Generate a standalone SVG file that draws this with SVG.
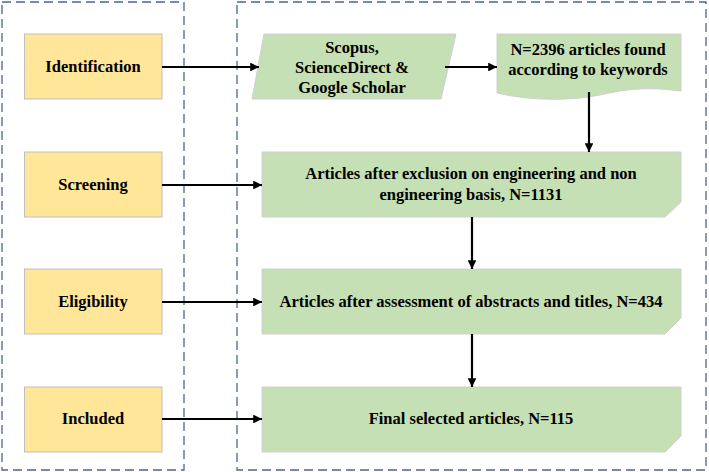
<svg xmlns="http://www.w3.org/2000/svg" width="709" height="472" viewBox="0 0 709 472">
<defs>
<marker id="ah" viewBox="0 0 10 10" refX="10" refY="5" markerWidth="4" markerHeight="4" orient="auto" markerUnits="strokeWidth">
<path d="M0,0 L10,5 L0,10 z" fill="#000"/>
</marker>
<style>
.frame{fill:none;stroke:#4A6699;stroke-width:1.3;stroke-dasharray:9,5}
.stage{fill:#FFE699;stroke:#BFBFBF;stroke-width:1}
.proc{fill:#C5E0B4;stroke:#D0D0D0;stroke-width:1}
.t{font-family:"Liberation Serif","Times New Roman",serif;font-weight:bold;font-size:16.5px;fill:#000;text-anchor:middle}
.c{fill:none;stroke:#000;stroke-width:2.2;marker-end:url(#ah)}
</style>
</defs>
<rect width="709" height="472" fill="#fff"/>
<rect class="frame" x="2" y="2" width="182" height="468"/>
<rect class="frame" x="237" y="2" width="469" height="468"/>

<g id="identification"><rect class="stage" x="24.5" y="34" width="137.5" height="65"/><text class="t" x="93" y="72">Identification</text></g>
<g id="screening"><rect class="stage" x="24.5" y="152" width="137.5" height="65"/><text class="t" x="93" y="190">Screening</text></g>
<g id="eligibility"><rect class="stage" x="24.5" y="269" width="137.5" height="65"/><text class="t" x="93" y="307">Eligibility</text></g>
<g id="included"><rect class="stage" x="24.5" y="387" width="137.5" height="65"/><text class="t" x="93" y="424">Included</text></g>

<g id="databases"><path class="proc" d="M264,34 L456,34 L441,99 L252,99 Z"/>
<text class="t" x="352" y="53">Scopus,</text><text class="t" x="352" y="73">ScienceDirect &amp;</text><text class="t" x="352" y="93">Google Scholar</text></g>
<g id="found"><path class="proc" d="M497,34 L681,34 L681,91 C650,87 630,88 600,95 C570,101 530,101 497,93 Z"/>
<text class="t" x="588" y="55">N=2396 articles found</text><text class="t" x="588" y="75">according to keywords</text></g>
<g id="exclusion"><path class="proc" d="M262,152 L681,152 L681,202 L665,217 L262,217 Z"/>
<text class="t" x="471" y="179">Articles after exclusion on engineering and non</text><text class="t" x="471" y="200">engineering basis, N=1131</text></g>
<g id="assessment"><path class="proc" d="M262,269 L681,269 L681,318 L665,334 L262,334 Z"/>
<text class="t" x="471" y="307">Articles after assessment of abstracts and titles, N=434</text></g>
<g id="final"><path class="proc" d="M262,387 L681,387 L681,436 L665,452 L262,452 Z"/>
<text class="t" x="471" y="424">Final selected articles, N=115</text></g>

<g id="connectors">
<path class="c" d="M162,67 L259,67"/>
<path class="c" d="M162,185 L262,185"/>
<path class="c" d="M162,302 L262,302"/>
<path class="c" d="M162,419 L262,419"/>
<path class="c" d="M445,67 L497,67"/>
<path class="c" d="M589,92 L589,152"/>
<path class="c" d="M472,217 L472,269"/>
<path class="c" d="M472,334 L472,387"/>
</g>
</svg>
